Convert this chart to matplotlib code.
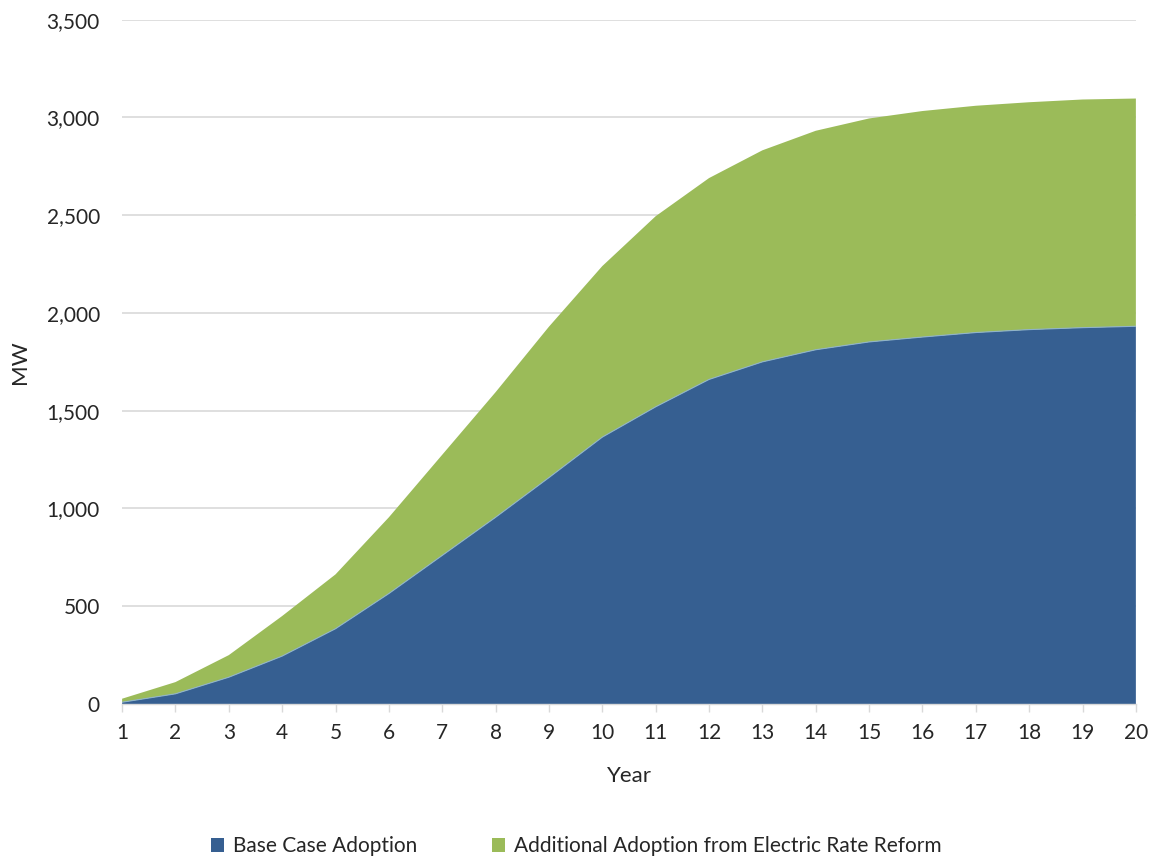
import matplotlib
matplotlib.use("Agg")
import matplotlib.pyplot as plt
from matplotlib.patches import Patch

# Distributed solar adoption by year (MW)
years = list(range(1, 21))
base_case = [9, 52, 137, 245, 385, 565, 760, 955, 1158, 1365,
             1520, 1660, 1750, 1812, 1852, 1877, 1900, 1915, 1925, 1932]
additional = [18, 60, 113, 205, 278, 390, 515, 640, 772, 875,
              975, 1030, 1082, 1120, 1143, 1156, 1160, 1163, 1167, 1165]
series_labels = ["Base Case Adoption", "Additional Adoption from Electric Rate Reform"]
y_ticks = [0, 500, 1000, 1500, 2000, 2500, 3000, 3500]

blue = "#365F91"
green = "#9BBB59"
text_color = "#262626"

plt.rcParams["font.family"] = ["Lato", "DejaVu Sans"]

fig = plt.figure(figsize=(11.52, 8.58), dpi=100)
ax = fig.add_axes([0.106, 0.1795, 0.88, 0.7975])

ax.stackplot(years, base_case, additional, colors=[blue, green],
             edgecolor="none", linewidth=0, zorder=2)
# light seam along the top of the base series
ax.plot(years, base_case, color="#8FB3C9", linewidth=0.8, zorder=3)

ax.set_xlim(1, 20)
ax.set_ylim(0, 3500)
ax.set_xticks(years)
ax.set_yticks(y_ticks)
ax.set_yticklabels([f"{v:,}" for v in y_ticks])

ax.grid(axis="y", color="#D9D9D9", linewidth=1.2, zorder=0)
ax.set_axisbelow(True)
for side in ["top", "right", "left"]:
    ax.spines[side].set_visible(False)
ax.spines["bottom"].set_color("#D9D9D9")
ax.spines["bottom"].set_linewidth(1.0)
ax.spines["bottom"].set_zorder(4)

ax.tick_params(axis="y", length=0, pad=16, labelsize=15, labelcolor=text_color)
ax.tick_params(axis="x", length=6, width=1, color="#D9D9D9", pad=8,
               labelsize=15, labelcolor=text_color)

ax.set_xlabel("Year", fontsize=16, color=text_color, labelpad=16)
ax.set_ylabel("MW", fontsize=16, color=text_color, labelpad=12)

handles = [Patch(facecolor=blue, edgecolor="none"),
           Patch(facecolor=green, edgecolor="none")]
fig.legend(handles, series_labels, loc="center", bbox_to_anchor=(0.5, 0.014),
           ncol=2, frameon=False, fontsize=15, handlelength=0.65,
           handleheight=0.65, handletextpad=0.4, columnspacing=3.6,
           labelcolor=text_color)

fig.savefig("out.png", dpi=100, facecolor="white")
